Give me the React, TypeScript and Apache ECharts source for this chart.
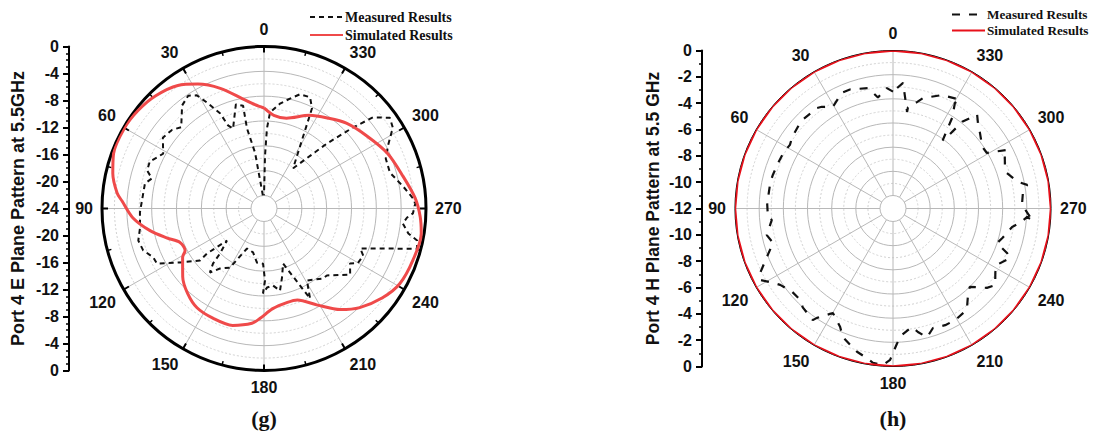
import React, { useEffect, useRef } from 'react';
import * as echarts from 'echarts';

// ---------- tick labels ----------
const angleTickLabels = ['0', '30', '60', '90', '120', '150', '180', '210', '240', '270', '300', '330'];
const gRadialTickLabels = ['0', '-4', '-8', '-12', '-16', '-20', '-24', '-20', '-16', '-12', '-8', '-4', '0'];
const hRadialTickLabels = ['0', '-2', '-4', '-6', '-8', '-10', '-12', '-10', '-8', '-6', '-4', '-2', '0'];

// ---------- (g) Port 4 E plane ----------
const gSimAngles = [0, 5, 11, 20, 28, 35, 44, 52, 60, 70, 77, 84, 87, 94, 101, 107, 112, 118, 121, 130, 138, 146, 155, 165, 174, 178, 185, 194, 200, 209, 217, 224, 233, 241, 251, 261, 267, 274, 283, 294, 305, 316, 325, 334, 346, 354, 360];
const gSimDb = [-9.9, -9.3, -8.1, -5.5, -3.4, -1.9, -0.9, -0.4, -0.15, -0.3, -1.1, -2.3, -3.2, -4.9, -7.4, -9.8, -11.5, -11.7, -10.8, -9.0, -7.7, -6.8, -6.6, -6.6, -7.5, -8.4, -9.9, -10.5, -10.4, -8.3, -5.7, -3.9, -2.2, -1.1, -0.7, -0.45, -0.9, -1.7, -3.1, -4.3, -5.8, -7.0, -8.3, -9.4, -11.1, -11.0, -9.9];

const gMeasAngles = [5, 9.1, 12, 11.5, 15.1, 21.2, 23.4, 24.8, 28.3, 30.7, 33.9, 38.5, 45.5, 49.5, 55, 61.4, 64.5, 67.6, 72, 75, 78.1, 86.2, 91.8, 98.7, 104.3, 109.1, 113.8, 117.2, 122.7, 129.1, 128.3, 130.9, 135.6, 137.2, 139.8, 143.7, 150, 157, 166, 172.6, 179, 180.8, 179.3, 182.2, 186.7, 191, 194.6, 199.1, 207.1, 210.8, 220.1, 223.2, 232.5, 237.4, 239.9, 244.6, 247.4, 255.3, 258.2, 260.2, 263.8, 266.4, 268.1, 271.9, 273.8, 279, 285.9, 292.3, 296.9, 302.1, 305.8, 309.9, 312.3, 315.9, 324.1, 334.4, 337.5, 342.5, 346.7, 351.3, 356.4, 357.9, 358.9, 360];
const gMeasDb = [-24, -17.0, -12.9, -9.2, -8.7, -12.3, -11.5, -9.2, -6.7, -4.9, -4.2, -4.9, -7.4, -6.6, -6.2, -7.6, -7.0, -6.2, -6.3, -7.4, -6.5, -6.4, -6.1, -5.9, -5.2, -5.5, -6.6, -6.7, -10.0, -12.8, -14.4, -18.2, -16.0, -14.0, -12.6, -14.1, -15.1, -19.1, -18.8, -17.3, -17.2, -14.5, -12.4, -13.35, -13.6, -12.6, -14.6, -16.7, -9.8, -12.6, -11.35, -11.3, -8.6, -9.65, -8.6, -8.4, -9.3, -0.6, -0.9, -2.5, -3.6, -3.0, -2.1, -1.7, -2.0, -3.4, -5.0, -4.9, -3.7, -1.6, -1.1, -3.2, -6.7, -11.5, -18.1, -8.2, -6.7, -6.8, -7.9, -9.0, -10.6, -13.2, -17.6, -24];

// ---------- (h) Port 4 H plane ----------
const hSimAngles = [0, 10, 20, 30, 40, 50, 60, 70, 80, 90, 100, 110, 120, 130, 140, 150, 160, 170, 180, 190, 200, 210, 220, 230, 240, 250, 260, 270, 280, 290, 300, 310, 320, 330, 340, 350, 360];
const hSimDb = [0, 0, 0, 0, 0, 0, 0, 0, 0, 0, 0, 0, 0, 0, 0, 0, 0, 0, 0, 0, 0, 0, 0, 0, 0, 0, 0, 0, 0, 0, 0, 0, 0, 0, 0, 0, 0];

const hMeasAngles = [0, 2.9, 7.7, 11.7, 19.9, 23.8, 30.6, 35, 37.1, 45.5, 49.4, 54.7, 58.3, 63.2, 68.4, 74.4, 78.3, 84.7, 87.5, 93.9, 95.4, 101.9, 106, 111, 115.9, 118.3, 121.8, 124.1, 129.6, 134.5, 137.6, 144.3, 145.2, 150.1, 155.9, 158.7, 162.5, 165.9, 170.1, 172.6, 176.3, 178.9, 181.7, 184.1, 189.1, 191.4, 194.8, 198.5, 204.1, 209.1, 216.1, 220.3, 224.4, 229.8, 233.1, 238.1, 241.5, 247.1, 248.7, 251.6, 254.9, 261.2, 263.5, 266.4, 264.9, 271.6, 276.8, 280, 282, 287.3, 290.3, 296.4, 297.2, 300.6, 304.6, 310.9, 315.2, 318.1, 321.4, 322.9, 323.9, 326.9, 329.6, 328.3, 336.6, 344.8, 347.3, 351.6, 351.7, 355.4, 360];
const hMeasDb = [-3.4, -3.1, -3.8, -2.9, -2.6, -2.6, -3.3, -2.8, -2.65, -2.6, -2.7, -2.85, -3.05, -2.9, -2.85, -2.75, -2.7, -2.7, -2.65, -2.7, -3.0, -2.4, -2.75, -1.9, -0.85, -0.6, -1.4, -1.8, -2.25, -2.3, -2.0, -1.7, -2.05, -3.1, -2.35, -1.65, -1.25, -0.85, -0.5, -0.2, -0.1, -0.55, -1.9, -2.6, -3.15, -2.65, -2.05, -2.65, -2.5, -2.5, -2.7, -3.5, -4.0, -2.9, -2.5, -3.1, -3.3, -2.55, -2.95, -4.0, -3.7, -3.1, -2.5, -1.95, -1.45, -2.4, -2.25, -1.8, -2.5, -3.2, -3.2, -2.75, -2.45, -4.05, -4.1, -3.55, -3.1, -2.65, -3.9, -5.7, -6.1, -4.1, -2.95, -2.5, -2.85, -3.6, -4.05, -4.6, -5.0, -2.65, -3.4];

const SANS = "'Liberation Sans', Arial, Helvetica, sans-serif";
const SERIF = "'Liberation Serif', 'Times New Roman', serif";

interface PanelCfg {
  cx: number; cy: number; r0: number; r1: number;
  rMin: number; rInterval: number; yMinorSplit: number;
  radialLabels: string[];
  axisX: number; yName: string; nameGap: number; nameSize: number;
  rimColor: string; rimWidth: number; showAngleTicks: boolean;
  legendLeft: number; legendTop: number; legendGap: number; legendFont: number;
  caption: string;
  simAngles: number[]; simDb: number[]; simColor: string; simWidth: number; simSmooth: number;
  measAngles: number[]; measDb: number[]; measDash: number[]; measWidth: number;
}

function buildOption(c: PanelCfg) {
  const span = -c.rMin;
  const labelStyle = { color: '#111', fontSize: 16, fontWeight: 'bold', fontFamily: SANS };
  return {
    animation: false,
    polar: [
      { center: [c.cx, c.cy], radius: [c.r0, c.r1] },
      { center: [c.cx, c.cy], radius: [0, c.r1] },
    ],
    angleAxis: [
      {
        polarIndex: 0,
        type: 'value', min: 0, max: 360, interval: 30, startAngle: 90, clockwise: false,
        axisLine: { show: false }, axisTick: { show: false }, axisLabel: { show: false },
        splitLine: { show: true, lineStyle: { color: '#b8b8b8', width: 1 } },
      },
      {
        polarIndex: 1,
        type: 'value', min: 0, max: 360, interval: 30, startAngle: 90, clockwise: false,
        axisLine: { show: true, lineStyle: { color: c.rimColor, width: c.rimWidth } },
        axisTick: { show: c.showAngleTicks, inside: true, length: 6, lineStyle: { color: '#000', width: 2 } },
        minorTick: { show: c.showAngleTicks, splitNumber: 2, length: 4, lineStyle: { color: '#000', width: 1.5 } },
        axisLabel: {
          margin: 9, ...labelStyle,
          formatter: (v: number) => (v >= 360 ? '' : angleTickLabels[Math.round(v / 30)]),
        },
        splitLine: { show: false },
      },
    ],
    radiusAxis: [
      {
        polarIndex: 0,
        type: 'value', min: c.rMin, max: 0, interval: c.rInterval,
        axisLine: { show: false }, axisTick: { show: false }, axisLabel: { show: false },
        splitLine: { show: true, lineStyle: { color: '#b8b8b8', width: 1 } },
        minorTick: { show: false, splitNumber: 2 },
        minorSplitLine: { show: true, lineStyle: { color: '#d2d2d2', width: 1, type: [2, 2] } },
      },
      {
        polarIndex: 1,
        type: 'value', min: 0, max: 1,
        axisLine: { show: false }, axisTick: { show: false }, axisLabel: { show: false },
        splitLine: { show: false },
      },
    ],
    grid: { left: c.axisX, top: c.cy - c.r1, height: 2 * c.r1, width: 10, containLabel: false },
    xAxis: { type: 'value', show: false, min: 0, max: 1 },
    yAxis: {
      type: 'value', min: 0, max: 2 * span, interval: c.rInterval, position: 'left',
      axisLine: { show: true, lineStyle: { color: '#000', width: 2 } },
      axisTick: { show: true, length: 6, lineStyle: { color: '#000', width: 2 } },
      minorTick: { show: true, splitNumber: c.yMinorSplit, length: 3, lineStyle: { color: '#000', width: 1.5 } },
      splitLine: { show: false },
      axisLabel: {
        margin: 10, ...labelStyle,
        formatter: (v: number) => c.radialLabels[Math.round(v / c.rInterval)],
      },
      name: c.yName, nameLocation: 'middle', nameGap: c.nameGap, nameRotate: 90,
      nameTextStyle: { color: '#111', fontSize: c.nameSize, fontWeight: 'bold', fontFamily: SANS },
    },
    legend: {
      left: c.legendLeft, top: c.legendTop, orient: 'vertical', padding: 0,
      itemWidth: 33, itemHeight: 14, itemGap: c.legendGap,
      itemStyle: { opacity: 0 },
      textStyle: { color: '#111', fontSize: c.legendFont, fontWeight: 'bold', fontFamily: SERIF, padding: [0, 0, 0, -3] },
      data: ['Measured Results', 'Simulated Results'],
    },
    graphic: [
      {
        type: 'text', x: c.cx, y: 418,
        style: { text: c.caption, fill: '#111', font: `bold 22px ${SERIF}`, align: 'center', verticalAlign: 'middle' },
      },
    ],
    series: [
      {
        type: 'line', name: 'Measured Results', coordinateSystem: 'polar', polarIndex: 0,
        data: c.measAngles.map((a, i) => [c.measDb[i], a]),
        symbol: 'none', smooth: false,
        itemStyle: { color: '#111' },
        lineStyle: { color: '#111', width: c.measWidth, type: c.measDash },
        z: 3,
      },
      {
        type: 'line', name: 'Simulated Results', coordinateSystem: 'polar', polarIndex: 0,
        data: c.simAngles.map((a, i) => [c.simDb[i], a]),
        symbol: 'none', smooth: c.simSmooth,
        itemStyle: { color: c.simColor },
        lineStyle: { color: c.simColor, width: c.simWidth },
        z: 4,
      },
    ],
  };
}

const gCfg: PanelCfg = {
  cx: 264, cy: 208.5, r0: 13, r1: 162,
  rMin: -24, rInterval: 4, yMinorSplit: 4,
  radialLabels: gRadialTickLabels,
  axisX: 69, yName: 'Port 4 E Plane Pattern at 5.5GHz', nameGap: 42, nameSize: 18,
  rimColor: '#000', rimWidth: 3, showAngleTicks: true,
  legendLeft: 309, legendTop: 10, legendGap: 4, legendFont: 14,
  caption: '(g)',
  simAngles: gSimAngles, simDb: gSimDb, simColor: '#ef4a4a', simWidth: 3, simSmooth: 0.3,
  measAngles: gMeasAngles, measDb: gMeasDb, measDash: [5, 4], measWidth: 2,
};

const hCfg: PanelCfg = {
  cx: 345, cy: 208.5, r0: 13, r1: 158,
  rMin: -12, rInterval: 2, yMinorSplit: 2,
  radialLabels: hRadialTickLabels,
  axisX: 154, yName: 'Port 4 H Plane Pattern at 5.5 GHz', nameGap: 40, nameSize: 17.5,
  rimColor: '#000', rimWidth: 1, showAngleTicks: false,
  legendLeft: 403, legendTop: 8, legendGap: 3, legendFont: 13.2,
  caption: '(h)',
  simAngles: hSimAngles, simDb: hSimDb, simColor: '#e8101a', simWidth: 2.5, simSmooth: 0,
  measAngles: hMeasAngles, measDb: hMeasDb, measDash: [8, 9], measWidth: 2.2,
};

function Panel({ cfg, left }: { cfg: PanelCfg; left: number }) {
  const ref = useRef<HTMLDivElement>(null);
  useEffect(() => {
    if (!ref.current) return;
    const chart = echarts.init(ref.current, undefined, { renderer: 'svg' });
    chart.setOption(buildOption(cfg) as any);
    return () => chart.dispose();
  }, [cfg]);
  return <div ref={ref} style={{ position: 'absolute', left, top: 0, width: 548, height: 441 }} />;
}

export default function App() {
  return (
    <div style={{ position: 'absolute', left: 0, top: 0, width: 1096, height: 441, background: '#fff', overflow: 'hidden' }}>
      <Panel cfg={gCfg} left={0} />
      <Panel cfg={hCfg} left={548} />
    </div>
  );
}
